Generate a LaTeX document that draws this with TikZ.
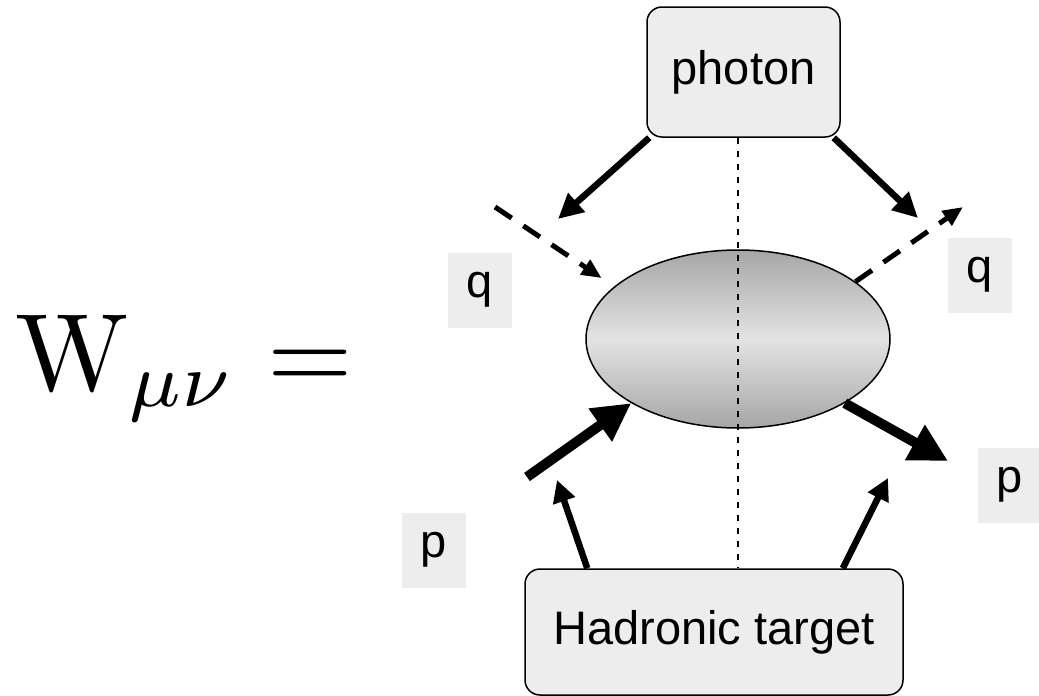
\documentclass[tikz,border=0pt]{standalone}
\usepackage{graphicx}
\usepackage{fontspec}
\setsansfont{Liberation Sans}
\usetikzlibrary{arrows.meta,shapes.geometric}
\newcommand{\lblfont}{\sffamily\fontsize{47}{50}\selectfont}

\begin{document}
\begin{tikzpicture}[x=1pt,y=-1pt,
  box/.style={draw,line width=1.5pt,rounded corners=15pt,fill=gray!14,font=\lblfont,inner sep=0pt},
  tag/.style={fill=gray!14,font=\lblfont,inner sep=0pt,minimum width=64pt,minimum height=75pt},
  photonarr/.style={-{Triangle[length=25pt,width=24pt]},line width=6.5pt},
  qarr/.style={-{Triangle[length=20pt,width=17pt]},line width=5pt,dash pattern=on 20pt off 14pt},
  parr/.style={-{Triangle[length=38pt,width=38pt]},line width=10pt},
  tarr/.style={-{Triangle[length=22pt,width=22pt]},line width=6.5pt}]
\useasboundingbox (0,0) rectangle (1039,696);
\node[anchor=base west,inner sep=0pt] (lhs) at (15,390) {\scalebox{11}{$\mathrm{W}_{\mu\nu} =$}};
\node[box,minimum width=193pt,minimum height=130pt] (photon) at (743.5,72) {photon};
\node[box,minimum width=378pt,minimum height=126pt] (target) at (714,632) {Hadronic target};
\node[ellipse,draw,line width=1.5pt,minimum width=304pt,minimum height=178pt,inner sep=0pt,
  top color=gray!70,bottom color=gray!70,middle color=gray!22] (blob) at (738,339) {};
\draw[line width=1.5pt,dash pattern=on 6pt off 7pt] (blob.north |- photon.south) -- (blob.north |- target.north);
\node[tag] (qin) at (480,290) {q};
\node[tag] (qout) at (980,275) {q};
\node[tag] (pin) at (434,550) {p};
\node[tag] (pout) at (1010,485) {p};
\coordinate (gl) at (558,219);
\coordinate (gr) at (918,218);
\coordinate (ql) at (495,207);
\coordinate (qr) at (963,207);
\coordinate (pl) at (527,477);
\coordinate (pr) at (948,461);
\coordinate (tl) at (557,480);
\coordinate (tr) at (888,478);
\draw[photonarr] ([xshift=3pt]photon.south west) -- (gl);
\draw[photonarr] ([xshift=-7pt]photon.south east) -- (gr);
\draw[qarr,shorten >=15pt] (ql) -- (blob.157);
\draw[qarr] (blob.26) -- (qr);
\draw[parr] (pl) -- (blob.211);
\draw[parr] (blob.329) -- (pr);
\draw[tarr] ([xshift=63pt]target.north west) -- (tl);
\draw[tarr] ([xshift=-61pt]target.north east) -- (tr);
\end{tikzpicture}
\end{document}
